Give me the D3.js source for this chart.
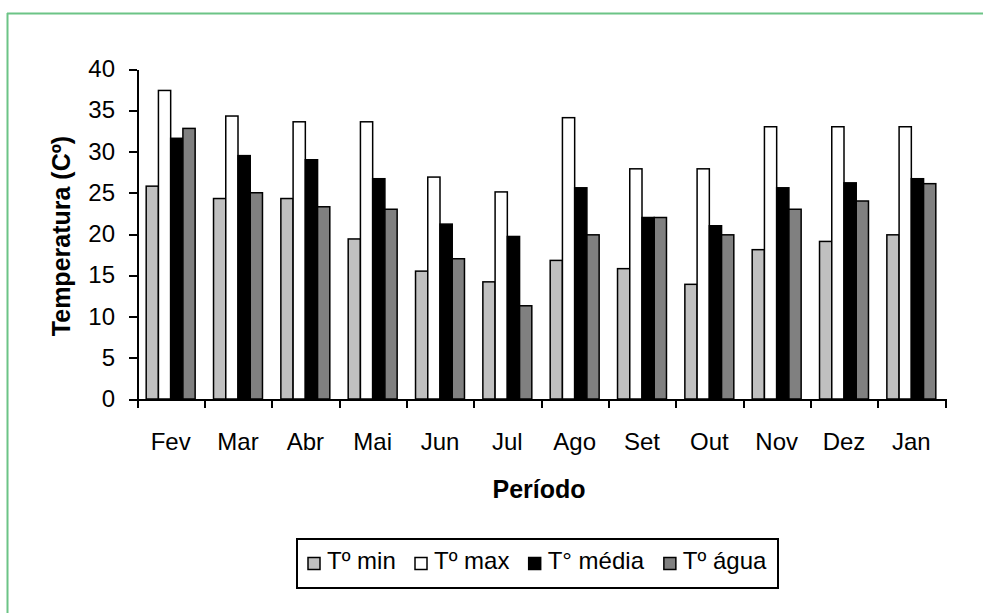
<!DOCTYPE html>
<meta charset="utf-8">
<style>
body { margin: 0; background: #fff; }
text { font-family: "Liberation Sans", Arial, sans-serif; fill: #000; }
.axis path, .axis line { fill: none; stroke: #000; stroke-width: 2px; shape-rendering: crispEdges; }
.axis text { font-size: 24px; }
.title { font-size: 25px; font-weight: bold; text-anchor: middle; }
.bar { stroke: #000; stroke-width: 1.5px; }
.legend text { font-size: 24px; }
</style>
<svg width="983" height="613"></svg>
<script src="https://d3js.org/d3.v7.min.js"></script>
<script>

var months = ["Fev", "Mar", "Abr", "Mai", "Jun", "Jul", "Ago", "Set", "Out", "Nov", "Dez", "Jan"];
var seriesNames = ["Tº min", "Tº max", "T° média", "Tº água"];
var tMin   = [25.8, 24.3, 24.3, 19.4, 15.5, 14.2, 16.8, 15.8, 13.9, 18.1, 19.1, 19.9];
var tMax   = [37.4, 34.3, 33.6, 33.6, 26.9, 25.1, 34.1, 27.9, 27.9, 33.0, 33.0, 33.0];
var tMedia = [31.6, 29.5, 29.0, 26.7, 21.2, 19.7, 25.6, 22.0, 21.0, 25.6, 26.2, 26.7];
var tAgua  = [32.8, 25.0, 23.3, 23.0, 17.0, 11.3, 19.9, 22.0, 19.9, 23.0, 24.0, 26.1];
var yTicks = [0, 5, 10, 15, 20, 25, 30, 35, 40];

var colors = ["#c0c0c0", "#ffffff", "#000000", "#808080"];
var values = [tMin, tMax, tMedia, tAgua];

var svg = d3.select("svg");

// green frame
svg.append("line").attr("x1", 7).attr("x2", 983).attr("y1", 13.5).attr("y2", 13.5)
    .attr("stroke", "#6cc486").attr("stroke-width", 2);
svg.append("line").attr("x1", 7.5).attr("x2", 7.5).attr("y1", 13).attr("y2", 613)
    .attr("stroke", "#6cc486").attr("stroke-width", 2);

var plot = {left: 137, right: 945, top: 69, bottom: 399};

var x = d3.scaleBand().domain(months).range([plot.left, plot.right])
    .paddingInner(0.273).paddingOuter(0.1365);
var xs = d3.scaleBand().domain(seriesNames).range([0, x.bandwidth()]);
var xi = d3.scaleLinear().domain([0, months.length]).range([plot.left, plot.right]);
var y = d3.scaleLinear().domain([0, 40]).range([plot.bottom, plot.top]);

// bars
var data = months.map(function(m, i) {
  return seriesNames.map(function(s, j) { return {month: m, key: s, value: values[j][i], c: colors[j]}; });
});

svg.selectAll(".group")
    .data(data)
  .enter().append("g")
    .attr("class", "group")
    .attr("transform", function(d) { return "translate(" + x(d[0].month) + ",0)"; })
  .selectAll("rect")
    .data(function(d) { return d; })
  .enter().append("rect")
    .attr("class", "bar")
    .attr("x", function(d) { return xs(d.key); })
    .attr("width", xs.bandwidth())
    .attr("y", function(d) { return y(d.value); })
    .attr("height", function(d) { return plot.bottom - y(d.value); })
    .attr("fill", function(d) { return d.c; });

// y axis
svg.append("g")
    .attr("class", "axis")
    .attr("transform", "translate(" + plot.left + ",0)")
    .call(d3.axisLeft(y).tickValues(yTicks).tickSize(8).tickSizeOuter(0).tickPadding(14));

// x axis ticks at category boundaries
svg.append("g")
    .attr("class", "axis")
    .attr("transform", "translate(0," + plot.bottom + ")")
    .call(d3.axisBottom(xi).tickValues(d3.range(months.length + 1)).tickFormat("").tickSize(9).tickSizeOuter(0));

// x labels
var xl = svg.append("g")
    .attr("class", "axis")
    .attr("transform", "translate(0," + plot.bottom + ")")
    .call(d3.axisBottom(x).tickSize(0).tickPadding(34));
xl.select(".domain").remove();

// axis titles
svg.append("text")
    .attr("class", "title")
    .attr("transform", "translate(70," + ((plot.top + plot.bottom) / 2 + 2) + ") rotate(-90)")
    .text("Temperatura (Cº)");

svg.append("text")
    .attr("class", "title")
    .attr("x", (plot.left + plot.right) / 2 - 2)
    .attr("y", 498)
    .text("Período");

// legend
var legend = svg.append("g").attr("class", "legend");
var box = {x: 297, y: 539, w: 481, h: 49};
legend.append("rect")
    .attr("x", box.x).attr("y", box.y).attr("width", box.w).attr("height", box.h)
    .attr("fill", "#fff").attr("stroke", "#000").attr("stroke-width", 2);

var items = legend.selectAll(".item")
    .data(seriesNames)
  .enter().append("g")
    .attr("class", "item");

items.append("rect")
    .attr("width", 12).attr("height", 12)
    .attr("y", 557.5)
    .attr("fill", function(d, i) { return colors[i]; })
    .attr("stroke", "#000").attr("stroke-width", 1.5);

items.append("text")
    .attr("x", 19)
    .attr("y", 569)
    .text(function(d) { return d; });

// spread the entries across the box
var widths = [];
items.each(function() { widths.push(this.getBBox().width); });
var start = box.x + 11, end = box.x + box.w - 11;
var gap = (end - start - d3.sum(widths)) / (widths.length - 1);
items.attr("transform", function(d, i) {
  var off = start + d3.sum(widths.slice(0, i)) + gap * i;
  return "translate(" + off + ",0)";
});

</script>
